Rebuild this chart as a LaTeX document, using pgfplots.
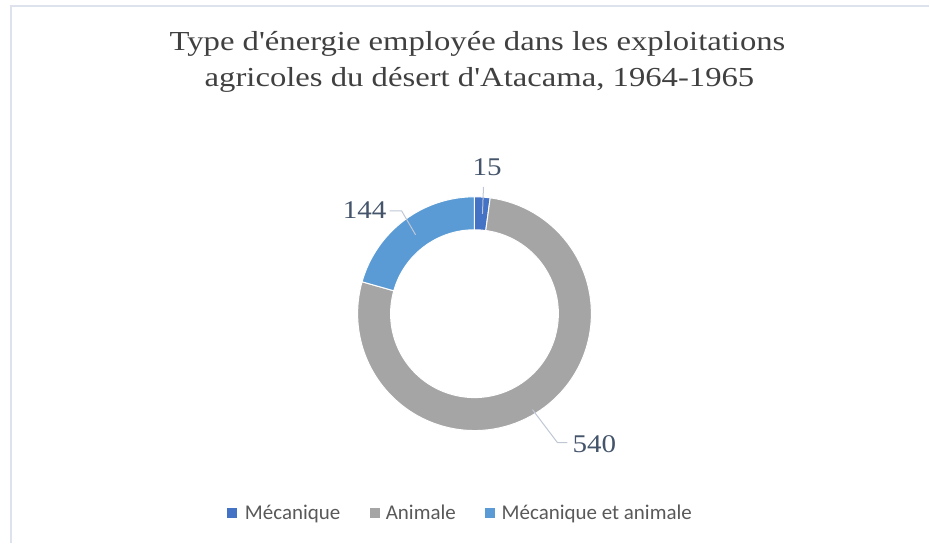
\documentclass[border=0pt]{standalone}
\usepackage{pgfplots}
\pgfplotsset{compat=1.18}
\usepackage{pgfplotstable}
\usepackage{fontspec}
\setmainfont{Liberation Serif}
\newfontfamily\titlefont[FakeStretch=1.19]{Liberation Serif}
\newfontfamily\labfont[FakeStretch=1.14]{Liberation Serif}
\newfontfamily\legfont{Carlito}
\definecolor{mec}{HTML}{4472C4}
\definecolor{ani}{HTML}{A5A5A5}
\definecolor{mecani}{HTML}{5B9BD5}
\definecolor{titlecol}{HTML}{404040}
\definecolor{labcol}{HTML}{44546A}
\definecolor{legcol}{HTML}{595959}
\definecolor{leadcol}{HTML}{BFC7D5}
\definecolor{framecol}{HTML}{DDE2EC}

\pgfplotstableread{
label value
Mecanique 15
Animale 540
MecAni 144
}\datatable

\newcommand\slice[3]{%
  \fill[#3, draw=white, line width=1bp] (axis cs:475,314) ++(#1:117bp)
    arc[start angle=#1, end angle=#2, radius=117bp]
    -- ++(#2:-33bp)
    arc[start angle=#2, end angle=#1, radius=84bp] -- cycle;}

\begin{document}
\begin{tikzpicture}
\begin{axis}[
  width=930bp, height=544bp, scale only axis,
  xmin=0, xmax=930, ymin=0, ymax=544, y dir=reverse,
  hide axis, clip=false,
]
\path (axis cs:0,0) rectangle (axis cs:930,544);
% frame
\draw[framecol, line width=2bp] (axis cs:11,544) -- (axis cs:11,6) -- (axis cs:930,6);
% title
\node[anchor=base, text=titlecol, font=\titlefont\fontsize{27.5bp}{32bp}\selectfont] at (axis cs:478,51) {Type d'énergie employée dans les exploitations};
\node[anchor=base, text=titlecol, font=\titlefont\fontsize{27.5bp}{32bp}\selectfont] at (axis cs:480,87) {agricoles du désert d'Atacama, 1964-1965};
\pgfplotsextra{%
  \pgfplotstablegetelem{0}{value}\of\datatable \let\va\pgfplotsretval
  \pgfplotstablegetelem{1}{value}\of\datatable \let\vb\pgfplotsretval
  \pgfplotstablegetelem{2}{value}\of\datatable \let\vc\pgfplotsretval
  \pgfmathsetmacro\tot{\va+\vb+\vc}
  \pgfmathsetmacro\aA{90}
  \pgfmathsetmacro\aB{90-360/\tot*\va}
  \pgfmathsetmacro\aC{\aB-360/\tot*\vb}
  \pgfmathsetmacro\aD{\aC-360/\tot*\vc}
  \slice{\aA}{\aB}{mec}
  \slice{\aB}{\aC}{ani}
  \slice{\aC}{\aD}{mecani}
  % leader lines
  \draw[leadcol, line width=1bp] (axis cs:484,187) -- (axis cs:483,214);
  \draw[leadcol, line width=1bp] (axis cs:390,211) -- (axis cs:402,211) -- (axis cs:416,235);
  \draw[leadcol, line width=1bp] (axis cs:533,410) -- (axis cs:558,443) -- (axis cs:568,443);
  % data labels
  \node[anchor=base west, inner sep=0pt, text=labcol, font=\labfont\fontsize{25.5bp}{30bp}\selectfont] at (axis cs:473,176) {\va};
  \node[anchor=base west, inner sep=0pt, text=labcol, font=\labfont\fontsize{25.5bp}{30bp}\selectfont] at (axis cs:343,219) {\vc};
  \node[anchor=base west, inner sep=0pt, text=labcol, font=\labfont\fontsize{25.5bp}{30bp}\selectfont] at (axis cs:573,453) {\vb};
}
% legend
\fill[mec] (axis cs:227,509) rectangle (axis cs:237,519);
\node[anchor=base west, inner sep=0pt, text=legcol, font=\legfont\fontsize{21bp}{24bp}\selectfont] at (axis cs:245,520) {Mécanique};
\fill[ani] (axis cs:370,509) rectangle (axis cs:380,519);
\node[anchor=base west, inner sep=0pt, text=legcol, font=\legfont\fontsize{21bp}{24bp}\selectfont] at (axis cs:386,520) {Animale};
\fill[mecani] (axis cs:486,509) rectangle (axis cs:496,519);
\node[anchor=base west, inner sep=0pt, text=legcol, font=\legfont\fontsize{21bp}{24bp}\selectfont] at (axis cs:502,520) {Mécanique et animale};
\end{axis}
\end{tikzpicture}
\end{document}
